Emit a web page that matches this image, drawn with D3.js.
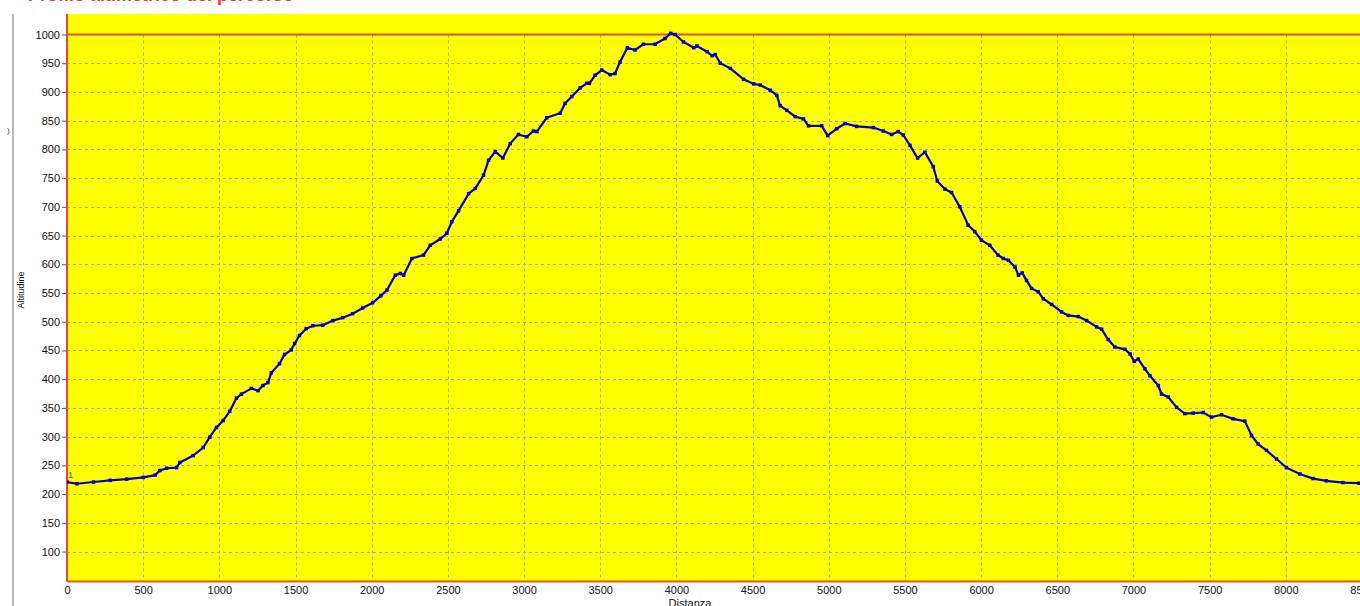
<!DOCTYPE html>
<html>
<head>
<meta charset="utf-8">
<script src="https://cdn.jsdelivr.net/npm/d3@7"></script>
<style>
  html, body { margin: 0; padding: 0; background: #fff; overflow: hidden; }
  svg { display: block; font-family: "Liberation Sans", Arial, sans-serif; }
</style>
</head>
<body>
<svg id="chart" width="1360" height="606"></svg>
<script>
// profile: distance (m) and altitude (m)
const distanza = [0, 65, 174, 283, 392, 501, 578, 610, 654, 719, 741, 828, 894, 937, 981, 1025, 1068, 1112, 1145, 1210, 1254, 1286, 1319, 1341, 1395, 1428, 1472, 1494, 1526, 1570, 1614, 1679, 1745, 1810, 1875, 1941, 2006, 2060, 2100, 2155, 2188, 2210, 2264, 2340, 2384, 2450, 2493, 2526, 2570, 2636, 2680, 2734, 2767, 2811, 2861, 2909, 2963, 3018, 3062, 3084, 3149, 3237, 3269, 3313, 3368, 3412, 3429, 3466, 3510, 3565, 3597, 3630, 3678, 3728, 3783, 3860, 3925, 3962, 3991, 4046, 4114, 4135, 4201, 4234, 4255, 4288, 4354, 4441, 4507, 4550, 4616, 4659, 4681, 4725, 4780, 4834, 4867, 4954, 4993, 5052, 5107, 5183, 5293, 5358, 5413, 5456, 5489, 5533, 5583, 5631, 5686, 5712, 5762, 5806, 5860, 5915, 5958, 6002, 6057, 6111, 6146, 6179, 6223, 6245, 6270, 6298, 6331, 6375, 6408, 6463, 6528, 6572, 6638, 6692, 6758, 6791, 6834, 6878, 6944, 6977, 7005, 7031, 7075, 7108, 7163, 7184, 7228, 7283, 7337, 7392, 7458, 7512, 7578, 7654, 7731, 7775, 7818, 7873, 7939, 8004, 8092, 8179, 8266, 8375, 8480, 8520];
const altitudine = [221, 218, 221, 224, 226, 229, 233, 241, 245, 246, 255, 267, 281, 299, 316, 328, 344, 367, 374, 384, 380, 389, 394, 411, 427, 443, 451, 462, 476, 488, 493, 494, 502, 507, 514, 524, 533, 545, 555, 581, 584, 581, 610, 616, 633, 644, 654, 674, 693, 723, 732, 755, 781, 796, 785, 810, 826, 822, 832, 831, 855, 863, 880, 892, 907, 915, 915, 929, 938, 930, 932, 952, 977, 973, 983, 983, 993, 1002, 1000, 987, 977, 980, 970, 963, 965, 950, 941, 922, 914, 912, 903, 894, 876, 868, 857, 853, 841, 841, 824, 836, 845, 840, 838, 832, 826, 831, 825, 807, 785, 795, 770, 745, 731, 725, 700, 668, 657, 642, 633, 616, 610, 607, 595, 581, 585, 572, 558, 552, 540, 530, 517, 511, 509, 502, 491, 487, 469, 456, 452, 444, 431, 435, 418, 406, 389, 374, 369, 351, 340, 341, 342, 334, 338, 331, 327, 302, 287, 276, 261, 246, 235, 227, 223, 220, 219, 218];

const xTicks = d3.range(0, 8501, 500);
const yTicks = d3.range(100, 1001, 50);

const svg = d3.select("#chart");
const plot = { left: 67, right: 1362, top: 13.8, bottom: 581.4 };

const x = d3.scaleLinear().domain([0, 8500]).range([plot.left, plot.right]);
const y = d3.scaleLinear().domain([48, 1036]).range([plot.bottom, plot.top]);

// title (cut off at the top edge in the original)
svg.append("text")
  .attr("x", 28).attr("y", 0.6)
  .attr("fill", "#ff3030")
  .attr("font-size", 18)
  .attr("font-weight", "bold")
  .text("Profilo altimetrico del percorso");

// left panel separator
svg.append("line")
  .attr("x1", 13).attr("x2", 13).attr("y1", 14).attr("y2", 606)
  .attr("stroke", "#a0a0a0").attr("stroke-width", 1.5);

svg.append("text")
  .attr("x", 7).attr("y", 133)
  .attr("font-size", 8).attr("fill", "#333")
  .text(")");

// plot background
svg.append("rect")
  .attr("x", plot.left).attr("y", plot.top)
  .attr("width", plot.right - plot.left).attr("height", plot.bottom - plot.top)
  .attr("fill", "#ffff00");

// grid
const grid = svg.append("g").attr("stroke", "#a8a8a8").attr("stroke-dasharray", "3,3").attr("stroke-width", 1);
grid.selectAll("line.h")
  .data(yTicks.filter(d => d < 1000))
  .join("line").attr("class", "h")
    .attr("x1", plot.left).attr("x2", plot.right)
    .attr("y1", d => Math.round(y(d)) + 0.5).attr("y2", d => Math.round(y(d)) + 0.5);
grid.selectAll("line.v")
  .data(xTicks.filter(d => d > 0))
  .join("line").attr("class", "v")
    .attr("y1", y(1000)).attr("y2", plot.bottom)
    .attr("x1", d => Math.round(x(d)) + 0.5).attr("x2", d => Math.round(x(d)) + 0.5);

// red line at 1000
svg.append("line")
  .attr("x1", plot.left).attr("x2", plot.right)
  .attr("y1", y(1000)).attr("y2", y(1000))
  .attr("stroke", "#e05020").attr("stroke-width", 2);

// frame (left and bottom)
svg.append("line")
  .attr("x1", plot.left).attr("x2", plot.left).attr("y1", plot.top).attr("y2", plot.bottom)
  .attr("stroke", "#e04a3a").attr("stroke-width", 2);
svg.append("line")
  .attr("x1", plot.left).attr("x2", plot.right).attr("y1", plot.bottom).attr("y2", plot.bottom)
  .attr("stroke", "#e05a20").attr("stroke-width", 2);

// y axis
const yAxis = svg.append("g")
  .attr("transform", `translate(${plot.left - 1},0)`)
  .call(d3.axisLeft(y).tickValues(yTicks).tickFormat(d3.format("d")).tickSize(4).tickPadding(2));
yAxis.select(".domain").remove();
yAxis.selectAll(".tick line").attr("stroke", "#555");
yAxis.selectAll(".tick text")
  .attr("font-size", 11).attr("fill", "#111")
  .attr("font-family", "'Liberation Sans', Arial, sans-serif");

// x axis
const xAxis = svg.append("g")
  .attr("transform", `translate(0,${plot.bottom})`)
  .call(d3.axisBottom(x).tickValues(xTicks).tickFormat(d3.format("d")).tickSize(0).tickPadding(5));
xAxis.select(".domain").remove();
xAxis.selectAll(".tick text")
  .attr("font-size", 11).attr("fill", "#111")
  .attr("font-family", "'Liberation Sans', Arial, sans-serif");

// axis titles
svg.append("text")
  .attr("transform", "translate(24,290) rotate(-90)")
  .attr("text-anchor", "middle")
  .attr("font-size", 9).attr("fill", "#111")
  .text("Altitudine");

svg.append("text")
  .attr("x", 690).attr("y", 607)
  .attr("text-anchor", "middle")
  .attr("font-size", 11).attr("fill", "#111")
  .text("Distanza");

// profile
const pts = distanza.map((d, i) => ({ d, a: altitudine[i] }));
svg.append("clipPath").attr("id", "clip")
  .append("rect").attr("x", plot.left).attr("y", plot.top)
  .attr("width", plot.right - plot.left).attr("height", plot.bottom - plot.top);

const line = d3.line().x(p => x(p.d)).y(p => y(p.a));
svg.append("path")
  .datum(pts)
  .attr("clip-path", "url(#clip)")
  .attr("fill", "none")
  .attr("stroke", "#0000c8")
  .attr("stroke-width", 2.2)
  .attr("d", line);

svg.append("g")
  .attr("clip-path", "url(#clip)")
  .selectAll("rect")
  .data(pts)
  .join("rect")
    .attr("x", p => x(p.d) - 1.75)
    .attr("y", p => y(p.a) - 1.75)
    .attr("width", 3.5).attr("height", 3.5)
    .attr("fill", "#0000d0");

// start marker label
svg.append("text")
  .attr("x", x(0) + 1).attr("y", y(altitudine[0]) - 4)
  .attr("font-size", 9).attr("fill", "#555")
  .text("1");
</script>
</body>
</html>
